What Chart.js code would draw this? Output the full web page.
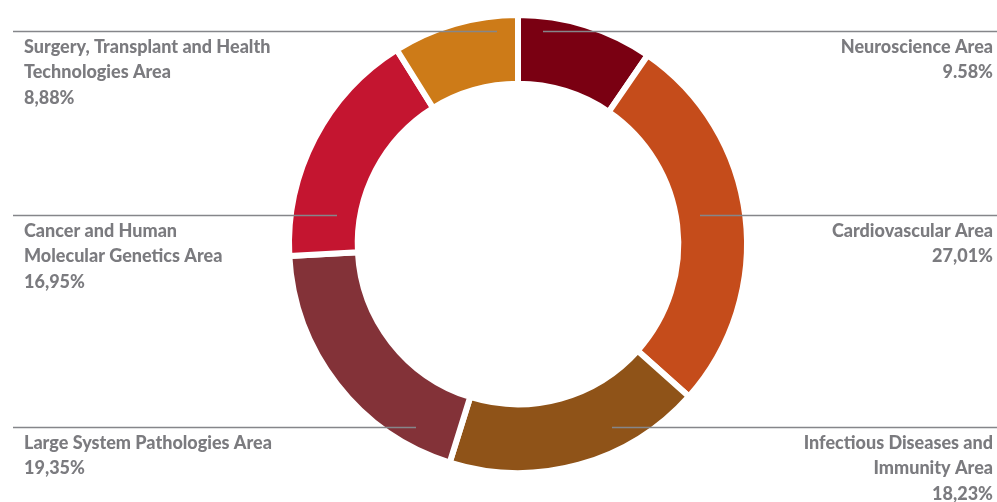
<!DOCTYPE html>
<html>
<head>
<meta charset="utf-8">
<script src="https://cdn.jsdelivr.net/npm/chart.js@4/dist/chart.umd.min.js"></script>
<style>
  html, body { margin: 0; padding: 0; background: #fff; }
  #wrap { width: 997px; height: 502px; position: relative; }
</style>
</head>
<body>
<div id="wrap"><canvas id="donut-chart"></canvas></div>
<script>
// data (clockwise from 12 o'clock)
const categories = [
    ["Neuroscience Area"],
    ["Cardiovascular Area"],
    ["Infectious Diseases and", "Immunity Area"],
    ["Large System Pathologies Area"],
    ["Cancer and Human", "Molecular Genetics Area"],
    ["Surgery, Transplant and Health", "Technologies Area"]
];
const shares = [9.58, 27.01, 18.23, 19.35, 16.95, 8.88];
const shareLabels = ["9.58%", "27,01%", "18,23%", "19,35%", "16,95%", "8,88%"];
const colors = ["#7a0012", "#c54c1b", "#8f5318", "#833238", "#c41530", "#cd7b18"];

// where each label sits, relative to the donut centre
const labelLayout = [
    { side: "right", dy: -213, dx: 25 },
    { side: "right", dy: -29,  dx: 182 },
    { side: "right", dy: 183,  dx: 94 },
    { side: "left",  dy: 183,  dx: -102 },
    { side: "left",  dy: -29,  dx: -181 },
    { side: "left",  dy: -213, dx: -21 }
];

const leaderLabels = {
    id: 'leaderLabels',
    afterDatasetsDraw(chart) {
        const ctx = chart.ctx;
        const arc = chart.getDatasetMeta(0).data[0];
        const cx = arc.x, cy = arc.y;
        const W = chart.width;
        ctx.save();
        ctx.font = "900 18px Lato, 'Open Sans', sans-serif";
        ctx.textBaseline = "middle";
        labelLayout.forEach((l, i) => {
            const y = cy + l.dy + 0.5;
            ctx.strokeStyle = "#85868a";
            ctx.lineWidth = 1.5;
            ctx.beginPath();
            if (l.side === "left") {
                ctx.moveTo(13, y);
                ctx.lineTo(cx + l.dx, y);
            } else {
                ctx.moveTo(cx + l.dx, y);
                ctx.lineTo(W, y);
            }
            ctx.stroke();
            ctx.fillStyle = "#7b7b7f";
            const lines = categories[i].concat([shareLabels[i]]);
            lines.forEach((t, j) => {
                const ty = y + 15.5 + j * 25.5;
                if (l.side === "left") {
                    ctx.textAlign = "left";
                    ctx.fillText(t, 24, ty);
                } else {
                    ctx.textAlign = "right";
                    ctx.fillText(t, 993, ty);
                }
            });
        });
        ctx.restore();
    }
};

new Chart(document.getElementById("donut-chart"), {
    type: 'doughnut',
    data: {
        labels: categories.map(c => c.join(' ')),
        datasets: [{
            data: shares,
            backgroundColor: colors,
            borderColor: "#ffffff",
            borderWidth: 6,
            hoverOffset: 0
        }]
    },
    options: {
        responsive: true,
        maintainAspectRatio: false,
        animation: false,
        cutout: '70%',
        rotation: 0,
        layout: {
            padding: { top: 12, bottom: 26, left: 286, right: 247 }
        },
        plugins: {
            legend: { display: false },
            tooltip: { enabled: false }
        }
    },
    plugins: [leaderLabels]
});
</script>
</body>
</html>
